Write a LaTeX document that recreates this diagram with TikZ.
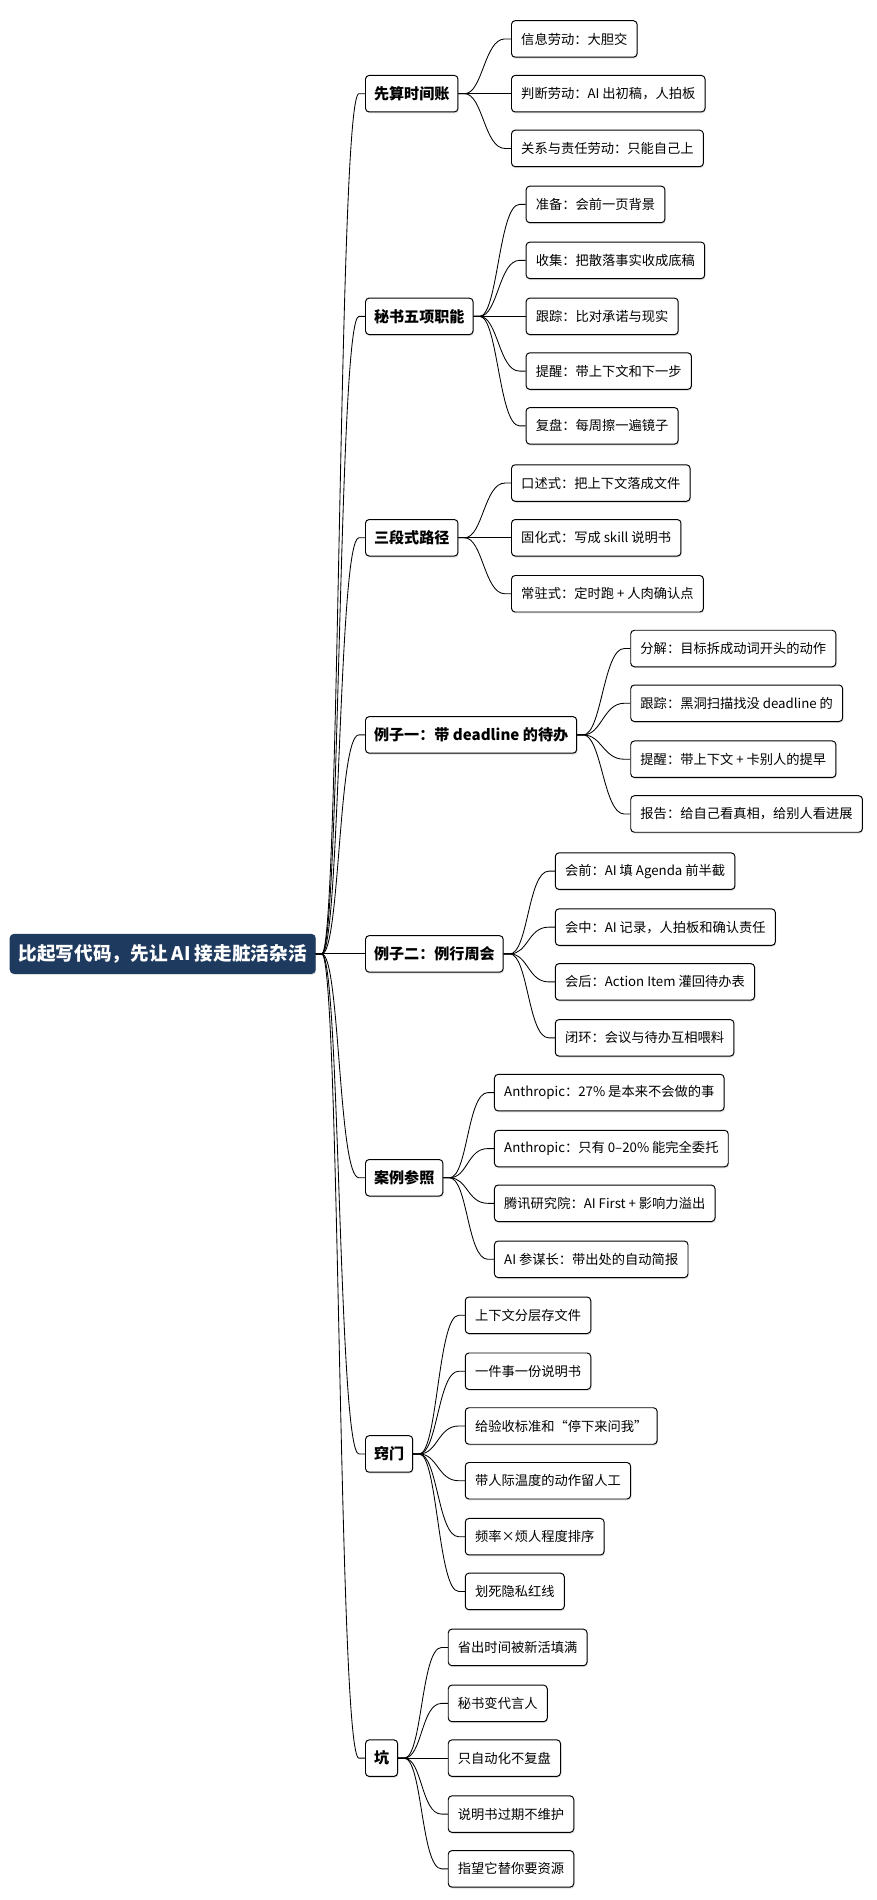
\documentclass[tikz,border=0pt]{standalone}
\usepackage{fontspec}
\setmainfont{Noto Sans CJK SC}
\usetikzlibrary{calc,shadows}
\definecolor{navy}{HTML}{1F3A5F}
\begin{document}
\begin{tikzpicture}[x=1pt,y=-1pt,
  box/.style={draw=black,line width=0.8pt,rounded corners=3pt,fill=white,minimum height=30pt,anchor=west,
    drop shadow={shadow xshift=0.6pt,shadow yshift=-1.2pt,opacity=0.25}},
  leaf/.style={box,font=\fontsize{10.9}{13}\selectfont,inner xsep=8pt},
  main/.style={box,font=\fontsize{12.4}{14}\selectfont\bfseries,inner xsep=7pt},
  root/.style={box,draw=navy,fill=navy,text=white,font=\fontsize{15.3}{17}\selectfont\bfseries,inner xsep=7pt,minimum height=32pt},
  link/.style={to path={-- ++(5,0) .. controls ($(\tikztostart)+(20,0)$) and ($(\tikztotarget)+(-22,0)$) .. ($(\tikztotarget)+(-5,0)$) -- (\tikztotarget)}},
  every path/.style={line width=0.7pt}]
\useasboundingbox (0,0) rectangle (720,1561.6);
\node[root] (r) at (8,784) {比起写代码，先让 AI 接走脏活杂活};
% mains
\node[main] (m1) at (300,77) {先算时间账};
\node[main] (m2) at (300,260) {秘书五项职能};
\node[main] (m3) at (300,442) {三段式路径};
\node[main] (m4) at (300,604) {例子一：带 deadline 的待办};
\node[main] (m5) at (300,784) {例子二：例行周会};
\node[main] (m6) at (300,968) {案例参照};
\node[main] (m7) at (300,1195) {窍门};
\node[main] (m8) at (300,1445) {坑};
\foreach \m in {m1,m2,m3,m4,m5,m6,m7,m8} \draw (r.east) to[link] (\m.west);
% leaves
\node[leaf] (a1) at (420,32) {信息劳动：大胆交};
\node[leaf] (a2) at (420,77) {判断劳动：AI 出初稿，人拍板};
\node[leaf] (a3) at (420,122) {关系与责任劳动：只能自己上};
\foreach \c in {a1,a2,a3} \draw (m1.east) to[link] (\c.west);
\node[leaf] (b1) at (432,168) {准备：会前一页背景};
\node[leaf] (b2) at (432,214) {收集：把散落事实收成底稿};
\node[leaf] (b3) at (432,260) {跟踪：比对承诺与现实};
\node[leaf] (b4) at (432,305) {提醒：带上下文和下一步};
\node[leaf] (b5) at (432,350) {复盘：每周擦一遍镜子};
\foreach \c in {b1,b2,b3,b4,b5} \draw (m2.east) to[link] (\c.west);
\node[leaf] (c1) at (420,397) {口述式：把上下文落成文件};
\node[leaf] (c2) at (420,442) {固化式：写成 skill 说明书};
\node[leaf] (c3) at (420,488) {常驻式：定时跑 + 人肉确认点};
\foreach \c in {c1,c2,c3} \draw (m3.east) to[link] (\c.west);
\node[leaf] (d1) at (518,533) {分解：目标拆成动词开头的动作};
\node[leaf] (d2) at (518,578) {跟踪：黑洞扫描找没 deadline 的};
\node[leaf] (d3) at (518,624) {提醒：带上下文 + 卡别人的提早};
\node[leaf] (d4) at (518,669) {报告：给自己看真相，给别人看进展};
\foreach \c in {d1,d2,d3,d4} \draw (m4.east) to[link] (\c.west);
\node[leaf] (e1) at (456,716) {会前：AI 填 Agenda 前半截};
\node[leaf] (e2) at (456,762) {会中：AI 记录，人拍板和确认责任};
\node[leaf] (e3) at (456,807) {会后：Action Item 灌回待办表};
\node[leaf] (e4) at (456,853) {闭环：会议与待办互相喂料};
\foreach \c in {e1,e2,e3,e4} \draw (m5.east) to[link] (\c.west);
\node[leaf] (f1) at (406,898) {Anthropic：27\% 是本来不会做的事};
\node[leaf] (f2) at (406,944) {Anthropic：只有 0–20\% 能完全委托};
\node[leaf] (f3) at (406,989) {腾讯研究院：AI First + 影响力溢出};
\node[leaf] (f4) at (406,1035) {AI 参谋长：带出处的自动简报};
\foreach \c in {f1,f2,f3,f4} \draw (m6.east) to[link] (\c.west);
\node[leaf] (g1) at (382,1081) {上下文分层存文件};
\node[leaf] (g2) at (382,1127) {一件事一份说明书};
\node[leaf] (g3) at (382,1172) {给验收标准和“停下来问我”};
\node[leaf] (g4) at (382,1217) {带人际温度的动作留人工};
\node[leaf] (g5) at (382,1263) {频率×烦人程度排序};
\node[leaf] (g6) at (382,1308) {划死隐私红线};
\foreach \c in {g1,g2,g3,g4,g5,g6} \draw (m7.east) to[link] (\c.west);
\node[leaf] (h1) at (368,1354) {省出时间被新活填满};
\node[leaf] (h2) at (368,1400) {秘书变代言人};
\node[leaf] (h3) at (368,1445) {只自动化不复盘};
\node[leaf] (h4) at (368,1491) {说明书过期不维护};
\node[leaf] (h5) at (368,1536) {指望它替你要资源};
\foreach \c in {h1,h2,h3,h4,h5} \draw (m8.east) to[link] (\c.west);
\end{tikzpicture}
\end{document}
